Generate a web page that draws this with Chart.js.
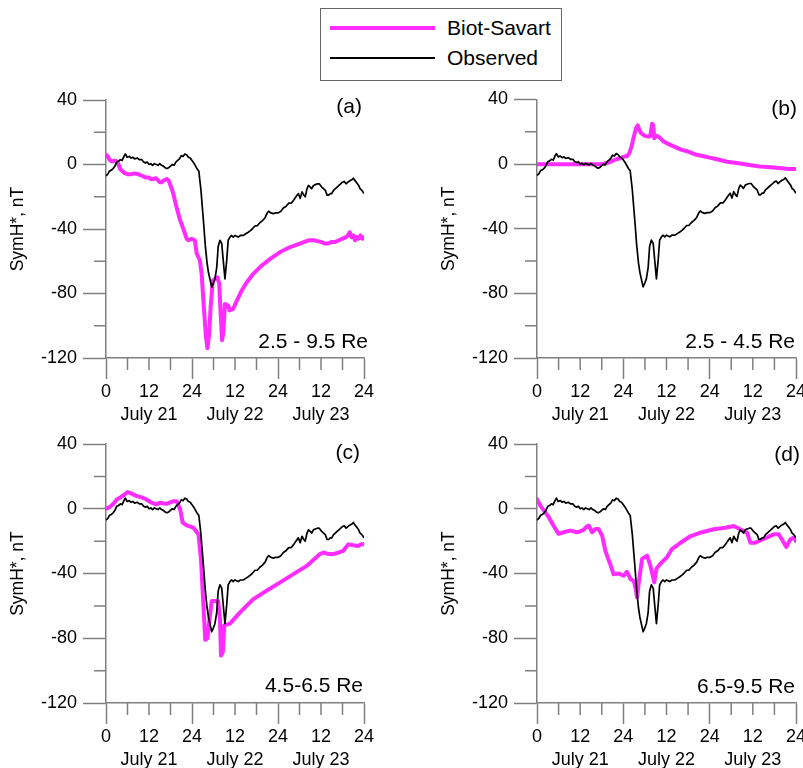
<!DOCTYPE html>
<html>
<head>
<meta charset="utf-8">
<title>SymH* - Biot-Savart vs Observed</title>
<script src="https://cdn.jsdelivr.net/npm/chart.js@4.4.1/dist/chart.umd.min.js"></script>
<style>
  html, body { margin: 0; padding: 0; background: #fff; overflow: hidden; }
  body { width: 803px; height: 768px; position: relative; font-family: 'Liberation Sans', Arial, sans-serif; }
  canvas { position: absolute; }
  #legend {
    position: absolute; left: 320px; top: 8px; width: 240px; height: 67px;
    border: 1px solid #666; padding-top: 4px; background: #fff; z-index: 2;
  }
  #legend .item { display: flex; align-items: center; height: 30px; font-size: 21px; color: #000; }
  #legend .swatch { display: inline-block; width: 105px; margin-left: 9px; margin-right: 12px; }
</style>
</head>
<body>
<div id="legend"></div>
<canvas id="panelA" width="400" height="348" style="left:0;top:80px"></canvas>
<canvas id="panelB" width="372" height="348" style="left:431px;top:80px"></canvas>
<canvas id="panelC" width="400" height="349" style="left:0;top:424px"></canvas>
<canvas id="panelD" width="372" height="349" style="left:431px;top:424px"></canvas>
<script>
// --- Data (hours from 00 UT July 21, SymH* in nT) ---
const seriesNames = ['Biot-Savart', 'Observed'];
const panelTags = ['(a)', '(b)', '(c)', '(d)'];
const rangeLabels = ['2.5 - 9.5 Re', '2.5 - 4.5 Re', '4.5-6.5 Re', '6.5-9.5 Re'];
const dayLabels = ['July 21', 'July 22', 'July 23'];
const dayLabelHours = [12, 36, 60];
const yTicksMajor = [-120, -80, -40, 0, 40];

const obsHours = [0,0.5,1,1.5,2,2.5,3,3.5,4,4.5,5,5.4,5.9,6.5,7,7.5,8,8.7,9.3,10,10.5,11,11.5,12,12.5,13,13.5,14,14.5,15,15.5,16,16.5,17,17.5,18,18.5,19,19.5,20,20.5,21,21.5,22,22.5,23,23.5,24,24.5,25,25.5,25.9,26.2,26.5,26.9,27.3,27.7,28.2,28.6,29,29.5,29.9,30.4,30.9,31.3,31.8,32.3,32.7,33.2,33.7,34.1,34.6,35,35.5,36,36.9,37.5,38.3,39,39.7,40.3,40.8,41.6,42.2,43,43.6,44.4,45,45.4,46,46.7,47.3,48.1,48.8,49.5,50.2,51,51.7,52.4,53,53.7,54.2,54.7,55.2,55.6,56.1,56.5,57,57.4,57.9,58.4,59,59.5,60.2,60.7,61.2,61.7,62.1,62.6,63,63.5,64,64.5,65,65.5,66,66.5,67,67.5,68.1,68.6,69,69.5,70,70.5,70.9,71.4,72];
const obsValues = [-7,-6,-4,-3.5,-2.5,-1,1.5,2,3,2.5,5,6.5,4.5,5,4,4.5,3.5,4,3,3,1.5,1,1.5,0,0.5,-0.5,0.5,0,-0.5,0.5,-0.5,-1,-2,-2.5,-2,-1,0,-0.5,1.5,2.5,3.5,5.5,5,6.5,6,4.5,4,2.5,1,-1,-3,-4,-10,-16,-27,-38,-50,-61,-67,-71,-76,-74,-71,-64,-51,-47,-49,-59,-71,-59,-47,-45,-44,-45,-44,-45,-44,-44,-43,-42,-41,-40,-38,-38,-36,-35,-33,-30,-29,-30,-30.5,-30,-30,-29,-27,-26,-24,-24,-22,-20,-18,-21,-17,-19,-20,-15,-13,-14,-15,-13,-12.5,-12,-12,-14,-15,-16,-19,-19,-18,-18,-16,-15,-14,-13,-12,-11,-10.5,-12,-11,-10,-9.5,-8.5,-10,-11.5,-13,-15,-16,-18];

const biotAHours = [0,0.5,1,1.5,2,2.5,3,3.5,4,5,6,7,8,9,10,11,12,12.5,13,14,15,15.5,16,17,17.5,18,18.5,19,19.5,20,20.6,21.6,22.5,23,23.9,24.8,25.3,26.2,26.7,27.3,27.9,28.3,28.8,29.2,29.8,30.4,31.1,31.6,32,32.4,32.7,33.2,34.1,34.5,35.5,36.5,37.9,39.3,41.1,43.5,45.8,48.6,51.4,54.1,56.5,58,60,61,62,63,64,65,66,67,67.5,68,68.5,69,69.5,70,70.5,71,71.5,72];
const biotAValues = [6,5,3,2,2,2.5,2,0,-3,-5,-6,-6,-5.5,-6,-7,-8,-8,-9,-9,-8.5,-11,-11,-10,-9,-10,-13,-16,-20,-25,-29,-34,-40,-46,-47,-46,-47,-55,-59.5,-68,-88.5,-107,-114,-105,-88.5,-72,-71,-70,-74,-92.7,-109,-105,-86.5,-87.5,-90.5,-89.5,-84.4,-78,-73,-67.8,-62.6,-58.5,-54.3,-51.2,-49,-47,-47,-48,-49,-49,-48,-48,-47,-46,-45,-44,-42,-45,-44,-47,-45,-46,-44,-46,-45];

const biotBHours = [0,18,19,20,21,22,23,24,25,25.6,26.3,26.9,27.5,28,28.5,29,30,31,31.5,31.8,32,32.3,32.6,33.2,33.8,35.2,36,38,40,41.7,44,46,48,50,52.9,56,59,62,65,68,70,72];
const biotBValues = [0,0,0.5,1,2,3,3.5,4.5,5,6.5,11,17,22,24,21,19,17.5,17,17.5,22,25,24,16,17.5,17,14,13,11,9,8,6,5,4,3,1.5,0.5,-0.5,-1.5,-2,-2.5,-3,-3];

const biotCHours = [0,1,2,3,4,5,6,7,8.6,10,11.3,12.5,14.1,15,16.9,18.8,19.7,20.7,21.4,22.5,24.4,25.8,26.5,27.2,27.7,28.3,29,29.5,31.3,31.8,32.1,32.6,33,34.6,37.4,41.1,44.8,48.6,52.3,56,59.7,60.7,62,63.4,65,66.2,67.6,69,70.4,71.2,72];
const biotCValues = [0,1,3,5.7,7,8.5,10.3,9.5,7.8,7,5.7,4,2.7,3.7,3,4.7,4.7,-0.4,-8.6,-10.3,-11.7,-15.8,-31,-60,-81,-80,-66,-57,-57,-68,-90.7,-88.6,-72,-71,-64,-55.8,-50.7,-45.5,-40.4,-35.3,-28,-27,-28,-28,-27,-26,-22,-22.6,-23,-22,-22];

const biotDHours = [0,0.9,1.9,3.2,4.6,6,7.4,8.3,9.3,10.2,11.1,12,13,13.8,14.4,15.3,16.2,17.1,18.1,19,20.4,21.3,22.7,24.1,25,26,26.9,27.5,27.8,28.3,29.2,30.6,31.5,32.6,33.2,34.3,36.1,37.5,39.9,42.6,45.4,49.1,52.4,54.7,56.5,58.4,59.3,60.7,62.6,63.9,65.8,67.2,68.1,69.3,70.4,71.4,72];
const biotDValues = [6,2,-1,-5,-10.5,-15.5,-14.5,-14,-13.5,-14,-14.5,-14,-13,-11,-10.5,-14.5,-12.5,-12.5,-16.5,-26,-34.5,-40.5,-40,-41.4,-39,-43.5,-44.5,-50,-54.8,-45.5,-31,-29,-35,-45.5,-37,-34,-30,-25,-21,-17,-14.8,-12.7,-11.7,-10.7,-12.7,-14.8,-21,-21,-19,-17.8,-15.8,-15.8,-19,-23.6,-19,-17.8,-20];

// --- Styles ---
const family = "'Liberation Sans', Arial, sans-serif";
const biotColor = '#ff2bff';
const obsColor = '#000000';
const axisColor = '#808080';
const axisWidth = 1.5;

Chart.defaults.font.family = family;
Chart.defaults.color = '#000';

// Build the legend box from the series names
const legendEl = document.getElementById('legend');
[[seriesNames[0], biotColor, 4], [seriesNames[1], obsColor, 1.5]].forEach(([name, color, width]) => {
    const item = document.createElement('div');
    item.className = 'item';
    item.innerHTML = `<span class="swatch" style="height:${width}px;background:${color}"></span>${name}`;
    legendEl.appendChild(item);
});

const toPoints = (hours, values) => hours.map((h, i) => ({ x: h, y: values[i] }));

// Minor tick marks + panel annotations
const panelText = {
    id: 'panelText',
    afterDraw(chart, args, opts) {
        const { ctx, chartArea, scales: { x, y } } = chart;
        ctx.save();
        ctx.strokeStyle = axisColor;
        ctx.lineWidth = axisWidth;
        ctx.beginPath();
        x.ticks.forEach(t => {
            if (t.value % 24 === 0) return;
            const px = x.getPixelForValue(t.value);
            ctx.moveTo(px, x.top);
            ctx.lineTo(px, x.top + 12);
        });
        y.ticks.forEach(t => {
            if (yTicksMajor.includes(t.value)) return;
            const py = y.getPixelForValue(t.value);
            ctx.moveTo(y.right, py);
            ctx.lineTo(y.right - 12, py);
        });
        ctx.stroke();

        ctx.fillStyle = '#000';
        ctx.font = `21px ${family}`;
        ctx.textAlign = 'right';
        ctx.textBaseline = 'alphabetic';
        ctx.fillText(opts.tag, chartArea.right + opts.tagOff[0], chartArea.top + opts.tagOff[1]);
        ctx.fillText(opts.range, chartArea.right + opts.rangeOff[0], chartArea.bottom + opts.rangeOff[1]);
        ctx.restore();
    }
};

// x scale box is 70px tall so the date line (with descenders) is not clipped
const panels = [
    { id: 'panelA', hours: biotAHours, values: biotAValues, pad: { top: 20, right: 36 }, tagOff: [-2, 12.5], rangeOff: [4, -10] },
    { id: 'panelB', hours: biotBHours, values: biotBValues, pad: { top: 19.5, right: 7 }, tagOff: [1, 15], rangeOff: [-1, -10] },
    { id: 'panelC', hours: biotCHours, values: biotCValues, pad: { top: 20, right: 36 }, tagOff: [-4, 15], rangeOff: [-1, -11] },
    { id: 'panelD', hours: biotDHours, values: biotDValues, pad: { top: 20, right: 7 }, tagOff: [4, 17], rangeOff: [-1, -10] }
];

panels.forEach((p, i) => {
    new Chart(document.getElementById(p.id), {
        type: 'line',
        data: {
            datasets: [
                {
                    label: seriesNames[1],
                    data: toPoints(obsHours, obsValues),
                    borderColor: obsColor,
                    borderWidth: 1.7,
                    borderJoinStyle: 'round',
                    pointRadius: 0,
                    tension: 0,
                    order: 0
                },
                {
                    label: seriesNames[0],
                    data: toPoints(p.hours, p.values),
                    borderColor: biotColor,
                    borderWidth: 4,
                    borderJoinStyle: 'round',
                    borderCapStyle: 'round',
                    pointRadius: 0,
                    tension: 0,
                    order: 1
                }
            ]
        },
        options: {
            responsive: false,
            animation: false,
            layout: { padding: { left: 0, top: p.pad.top, right: p.pad.right, bottom: 0 } },
            plugins: {
                legend: { display: false },
                tooltip: { enabled: false },
                panelText: { tag: panelTags[i], range: rangeLabels[i], tagOff: p.tagOff, rangeOff: p.rangeOff }
            },
            scales: {
                x: {
                    type: 'linear',
                    min: 0,
                    max: 72,
                    afterFit: s => { s.height = 70; s.paddingLeft = 0; s.paddingRight = 0; },
                    border: { color: axisColor, width: axisWidth },
                    grid: {
                        drawOnChartArea: false,
                        drawTicks: true,
                        tickLength: 21,
                        tickWidth: axisWidth,
                        tickColor: c => (c.tick && c.tick.value % 24 === 0) ? axisColor : 'rgba(0,0,0,0)'
                    },
                    ticks: {
                        stepSize: 6,
                        autoSkip: false,
                        maxRotation: 0,
                        minRotation: 0,
                        padding: 2,
                        color: '#000',
                        font: { size: 18, lineHeight: 1.25 },
                        callback: v => {
                            if (v % 12 !== 0) return '';
                            const t = v === 0 ? '0' : (v % 24 === 0 ? '24' : '12');
                            const d = dayLabelHours.indexOf(v);
                            return d >= 0 ? [t, dayLabels[d]] : t;
                        }
                    }
                },
                y: {
                    min: -120,
                    max: 40,
                    afterFit: s => { s.width = 106; s.paddingTop = 0; s.paddingBottom = 0; },
                    border: { color: axisColor, width: axisWidth },
                    grid: {
                        drawOnChartArea: false,
                        drawTicks: true,
                        tickLength: 23,
                        tickWidth: axisWidth,
                        tickColor: c => (c.tick && yTicksMajor.includes(c.tick.value)) ? axisColor : 'rgba(0,0,0,0)'
                    },
                    ticks: {
                        stepSize: 20,
                        padding: 6,
                        color: '#000',
                        font: { size: 18 },
                        callback: v => yTicksMajor.includes(v) ? String(v) : ''
                    },
                    title: {
                        display: true,
                        text: 'SymH*, nT',
                        color: '#000',
                        font: { size: 17.5 },
                        padding: { top: 7.5, bottom: 0 }
                    }
                }
            }
        },
        plugins: [panelText]
    });
});
</script>
</body>
</html>
